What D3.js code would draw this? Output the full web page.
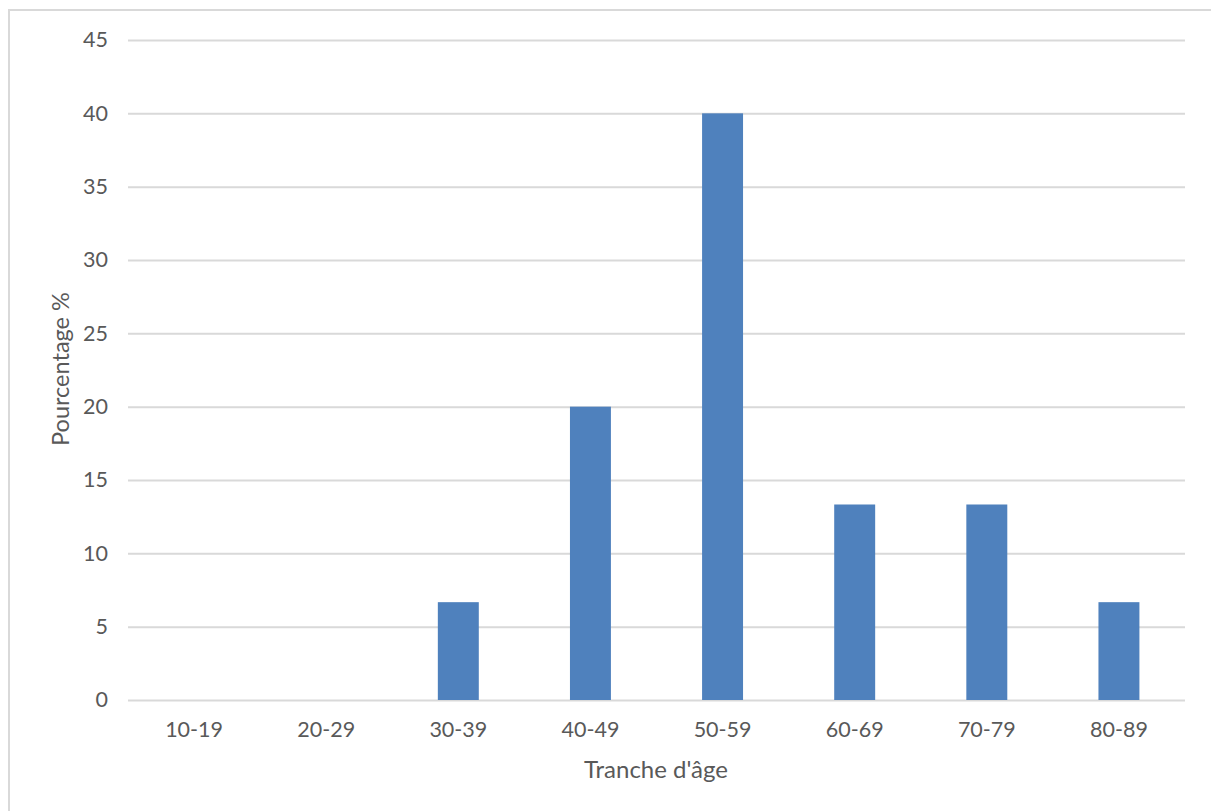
<!DOCTYPE html>
<html>
<head>
<meta charset="utf-8">
<script src="https://cdn.jsdelivr.net/npm/d3@7"></script>
<style>
  html, body { margin: 0; padding: 0; background: #fff; }
  svg { display: block; }
  text { font-family: Lato, "Open Sans", sans-serif; fill: #595959; }
</style>
</head>
<body>
<svg id="chart" width="1211" height="811"></svg>
<script>
// Age brackets and their share of respondents (%)
const categories = ["10-19", "20-29", "30-39", "40-49", "50-59", "60-69", "70-79", "80-89"];
const percentages = [0, 0, 6.67, 20, 40, 13.33, 13.33, 6.67];
const yTicks = [0, 5, 10, 15, 20, 25, 30, 35, 40, 45];
const xTitle = "Tranche d'âge";
const yTitle = "Pourcentage %";

const svg = d3.select("#chart");
const plot = { left: 128, right: 1185, top: 40, bottom: 700 };

// Frame lines along the top and left edges
svg.append("line").attr("x1", 8.5).attr("x2", 1211).attr("y1", 10).attr("y2", 10)
  .attr("stroke", "#d9d9d9").attr("stroke-width", 2);
svg.append("line").attr("x1", 9).attr("x2", 9).attr("y1", 9).attr("y2", 811)
  .attr("stroke", "#d9d9d9").attr("stroke-width", 2);

const x = d3.scaleBand().domain(categories)
  .range([plot.left, plot.right])
  .paddingInner(0.69).paddingOuter(0.345);
const y = d3.scaleLinear().domain([0, 45]).range([plot.bottom, plot.top]);

// Horizontal gridlines with value labels
const yAxis = d3.axisLeft(y).tickValues(yTicks)
  .tickSize(-(plot.right - plot.left)).tickPadding(20);
const gy = svg.append("g").attr("transform", `translate(${plot.left},0)`).call(yAxis);
gy.select(".domain").remove();
gy.selectAll(".tick line").attr("stroke", "#d9d9d9").attr("stroke-width", 2);
gy.selectAll(".tick text").attr("font-size", "21.5px").attr("fill", "#595959")
  .style("font-family", "Lato, sans-serif");

// Category labels
const xAxis = d3.axisBottom(x).tickSize(0).tickPadding(22);
const gx = svg.append("g").attr("transform", `translate(0,${plot.bottom})`).call(xAxis);
gx.select(".domain").remove();
gx.selectAll(".tick text").attr("font-size", "21.5px").attr("fill", "#595959")
  .style("font-family", "Lato, sans-serif");

// Bars
svg.append("g").selectAll("rect")
  .data(categories.map((c, i) => ({ c, v: percentages[i] })).filter(d => d.v > 0))
  .join("rect")
  .attr("x", d => x(d.c))
  .attr("width", x.bandwidth())
  .attr("y", d => y(d.v))
  .attr("height", d => y(0) - y(d.v))
  .attr("fill", "#4f81bd");

// Axis titles
svg.append("text").attr("x", 656).attr("y", 778)
  .attr("text-anchor", "middle").attr("font-size", "24px").text(xTitle);
svg.append("text")
  .attr("transform", "translate(69,369) rotate(-90)")
  .attr("text-anchor", "middle").attr("font-size", "23.5px").text(yTitle);
</script>
</body>
</html>
